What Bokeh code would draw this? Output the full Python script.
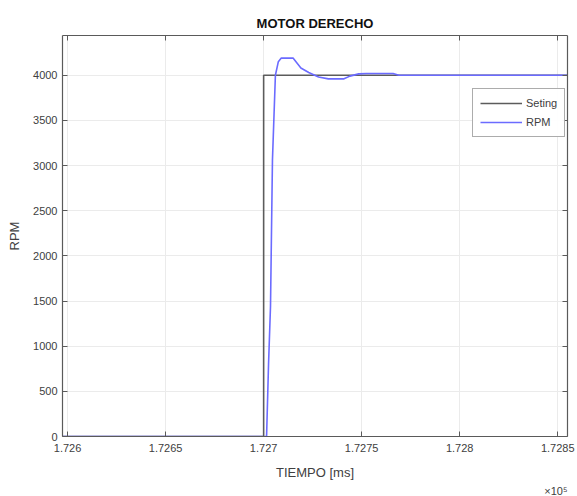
from bokeh.plotting import figure
from bokeh.models import LinearAxis, Range1d, Title, CustomJSTickFormatter, FixedTicker, Legend, LegendItem
from bokeh.embed import file_html
from bokeh.resources import INLINE

# Data (time in ms, speed in RPM)
setting_t = [172597, 172700, 172700, 172855]
setting_rpm = [0, 0, 4000, 4000]

rpm_t = [172597, 172701.5, 172702.5, 172703.5, 172704.5, 172706, 172707.5, 172709,
         172715, 172719, 172723, 172728, 172733, 172741, 172744, 172748.5,
         172752.5, 172766, 172769, 172855]
rpm_v = [0, 0, 800, 1440, 3060, 4000, 4150, 4190,
         4190, 4080, 4030, 3980, 3960, 3960, 3990, 4015,
         4020, 4020, 4000, 4000]

x_ticks = [172600, 172650, 172700, 172750, 172800, 172850]
y_ticks = [0, 500, 1000, 1500, 2000, 2500, 3000, 3500, 4000]

FONT = "Liberation Sans Narrow, Arial Narrow, Liberation Sans, Arial, sans-serif"
TXT = "#404040"
AX = "#5a5a5a"

p = figure(width=577, height=496, output_backend="svg", toolbar_location=None,
           x_range=Range1d(172597.4, 172855), y_range=Range1d(0, 4440),
           min_border_left=62, min_border_right=10, min_border_top=35, min_border_bottom=59)
p.background_fill_color = "white"
p.border_fill_color = "white"
p.outline_line_color = None

p.title.text = "MOTOR DERECHO"
p.title.align = "center"
p.title.text_font = FONT
p.title.text_font_size = "13px"
p.title.text_font_style = "bold"
p.title.text_color = "#111111"

fmt = CustomJSTickFormatter(code="""
var s = (tick/1e5).toFixed(4);
s = s.replace(/0+$/, '');
return s;
""")
blank = CustomJSTickFormatter(code="return '';")

for ax in p.xaxis:
    ax.ticker = FixedTicker(ticks=x_ticks)
    ax.formatter = fmt
    ax.axis_label = "TIEMPO [ms]"
for ax in p.yaxis:
    ax.ticker = FixedTicker(ticks=y_ticks)
    ax.axis_label = "RPM"

for ax in list(p.xaxis) + list(p.yaxis):
    ax.major_tick_in = 5
    ax.major_tick_out = 0
    ax.minor_tick_line_color = None
    ax.axis_line_color = AX
    ax.axis_line_width = 1.2
    ax.major_tick_line_color = AX
    ax.major_label_text_font = FONT
    ax.major_label_text_font_size = "11px"
    ax.major_label_text_color = TXT
    ax.axis_label_text_font = FONT
    ax.axis_label_text_font_size = "13px"
    ax.axis_label_text_font_style = "normal"
    ax.axis_label_text_color = TXT

p.xaxis.major_label_standoff = 7
p.xaxis.axis_label_standoff = 10
p.yaxis.major_label_standoff = 5
p.yaxis.axis_label_standoff = 8

# box axes (top and right, ticks only)
top = LinearAxis(ticker=FixedTicker(ticks=x_ticks), formatter=blank,
                 major_tick_in=5, major_tick_out=0, minor_tick_line_color=None,
                 axis_line_color=AX, axis_line_width=1.2, major_tick_line_color=AX,
                 major_label_standoff=0)
right = LinearAxis(ticker=FixedTicker(ticks=y_ticks), formatter=blank,
                   major_tick_in=5, major_tick_out=0, minor_tick_line_color=None,
                   axis_line_color=AX, axis_line_width=1.2, major_tick_line_color=AX,
                   major_label_standoff=0)
p.add_layout(top, "above")
p.add_layout(right, "right")

p.xgrid.ticker = FixedTicker(ticks=x_ticks)
p.ygrid.ticker = FixedTicker(ticks=y_ticks)
p.grid.grid_line_color = "#ebebeb"
p.grid.grid_line_width = 1

l1 = p.line(setting_t, setting_rpm, line_color="#5c5c5c", line_width=1.6)
l2 = p.line(rpm_t, rpm_v, line_color="#6b6bff", line_width=1.6)

legend = Legend(items=[LegendItem(label="Seting", renderers=[l1]),
                       LegendItem(label="RPM", renderers=[l2])],
                location=(410, 299))
legend.label_text_font = FONT
legend.label_text_font_size = "11px"
legend.label_text_color = TXT
legend.glyph_width = 42
legend.glyph_height = 14
legend.label_height = 14
legend.label_standoff = 4
legend.spacing = 5
legend.padding = 7
legend.margin = 0
legend.border_line_color = AX
legend.border_line_width = 1
legend.background_fill_color = "white"
p.add_layout(legend, "center")

p.add_layout(Title(text="×10⁵", align="right", text_font=FONT, text_font_size="11px",
                   text_color=TXT, text_font_style="normal", standoff=0), "below")

open("out.html", "w").write(file_html(p, INLINE))
